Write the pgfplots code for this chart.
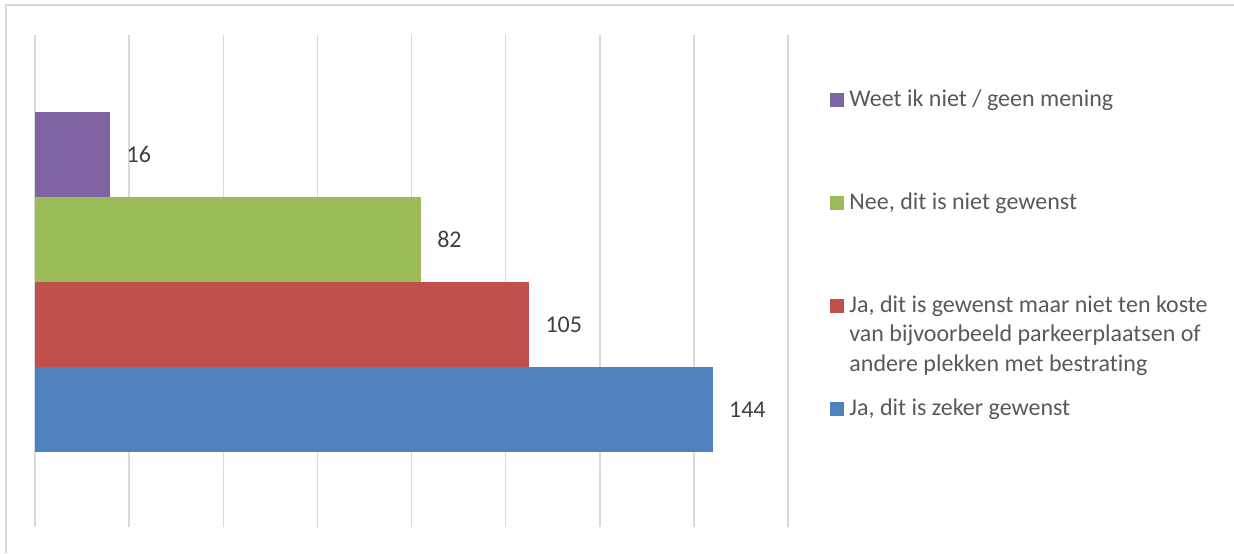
\documentclass[border=0pt]{standalone}
\usepackage{fontspec}
\setmainfont{Carlito}[Ligatures=CommonOff]
\usepackage{pgfplots}
\pgfplotsset{compat=1.18}

\definecolor{cblue}{HTML}{4F81BD}
\definecolor{cred}{HTML}{C0504D}
\definecolor{cgreen}{HTML}{9BBB59}
\definecolor{cpurple}{HTML}{8064A2}
\definecolor{gridgray}{HTML}{D9D9D9}
\definecolor{labgray}{HTML}{404040}
\definecolor{leggray}{HTML}{595959}

% every legend row is 51.5pt high, so entries sit at fixed distances
\newcommand\legrow[1]{\rule[-42.5pt]{0pt}{51.5pt}\smash{\parbox[t]{200pt}{#1}}}

\begin{document}
\begin{tikzpicture}
\fontsize{12}{14.75}\selectfont
\path[use as bounding box] (0,0) rectangle (617pt,276.5pt);
\draw[gridgray, line width=0.75pt] (3pt,0) -- (3pt,274pt) -- (617pt,274pt);
\begin{axis}[
    at={(17.5pt,13pt)}, anchor=south west,
    scale only axis,
    width=376.5pt, height=246pt,
    xmin=0, xmax=160,
    ymin=-0.382, ymax=5.406,
    xtick={0,20,...,160},
    xticklabels={},
    ytick=\empty,
    xmajorgrids,
    major grid style={draw=gridgray, line width=0.75pt},
    axis line style={draw=none},
    major tick length=0pt,
    point meta=x,
    /pgf/number format/assume math mode=true,
    nodes near coords,
    nodes near coords align={horizontal},
    every node near coord/.append style={
        font=\fontsize{12}{14.75}\selectfont, text=labgray,
        inner sep=0pt, xshift=8pt},
    reverse legend,
    legend cell align=left,
    legend style={
        at={(1.0558,0.8923)}, anchor=north west,
        draw=none, fill=none, inner sep=0pt,
        column sep=2.5pt,
        cells={anchor=base west},
        nodes={inner sep=0pt, text depth=},
        font=\fontsize{12}{14.75}\selectfont, text=leggray
    },
    legend image code/.code={\fill[#1] (0pt,-0.5pt) rectangle (7pt,6.5pt);},
]
\addplot[xbar, bar shift=0pt, bar width=1, draw=none, fill=cblue]
    coordinates {(144,1)};
\addlegendentry{\legrow{Ja, dit is zeker gewenst}}
\addplot[xbar, bar shift=0pt, bar width=1, draw=none, fill=cred]
    coordinates {(105,2)};
\addlegendentry{\legrow{Ja, dit is gewenst maar niet ten koste\\van bijvoorbeeld parkeerplaatsen of\\andere plekken met bestrating}}
\addplot[xbar, bar shift=0pt, bar width=1, draw=none, fill=cgreen]
    coordinates {(82,3)};
\addlegendentry{\legrow{Nee, dit is niet gewenst}}
\addplot[xbar, bar shift=0pt, bar width=1, draw=none, fill=cpurple]
    coordinates {(16,4)};
\addlegendentry{\legrow{Weet ik niet / geen mening}}
\end{axis}
\end{tikzpicture}
\end{document}
